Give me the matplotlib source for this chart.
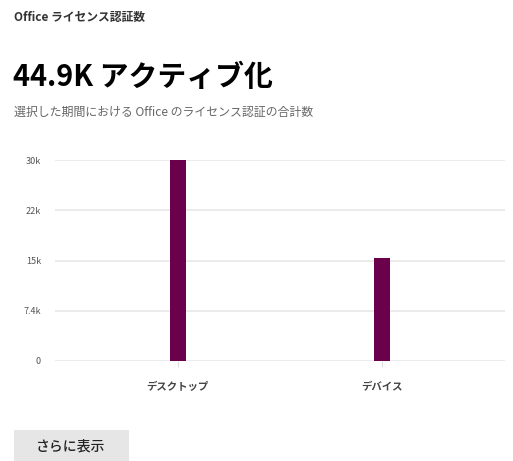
import matplotlib.pyplot as plt
from matplotlib.patches import FancyBboxPatch

plt.rcParams['font.family'] = ['Noto Sans CJK JP', 'DejaVu Sans']

categories = ['デスクトップ', 'デバイス']
activations = [29700, 15200]
tick_labels = ['0', '7.4k', '15k', '22k', '30k']

title = 'Office ライセンス認証数'
headline = '44.9K アクティブ化'
subtitle = '選択した期間における Office のライセンス認証の合計数'
button_text = 'さらに表示'

W, H = 513, 461
fig = plt.figure(figsize=(W / 100, H / 100), dpi=100)
fig.patch.set_facecolor('white')


def px(x, y):
    return x / W, 1 - y / H


fig.text(*px(14, 18), title, fontsize=8.5, color='#333333', va='center', ha='left', fontweight='bold')
fig.text(*px(13, 77), headline, fontsize=20.8, color='black', va='center', ha='left', fontweight='bold')
fig.text(*px(14, 112), subtitle, fontsize=8.6, color='#666666', va='center', ha='left')

# plot area
left, right = 55, 505
top, bottom = 160, 361
ax = fig.add_axes([left / W, 1 - bottom / H, (right - left) / W, (bottom - top) / H])
ymax = max(activations)
xs = list(range(len(categories)))
ax.bar(xs, activations, width=0.08, color='#6b004b', zorder=3)
ax.set_xlim(-0.6, 1.6)
ax.set_ylim(0, ymax)
ticks = [ymax * i / 4 for i in range(5)]
ax.set_yticks(ticks)
ax.set_yticklabels(tick_labels, fontsize=6.5, color='#555555')
ax.set_xticks(xs)
ax.set_xticklabels(categories, fontsize=7.5, fontweight='bold', color='#444444')
ax.tick_params(axis='y', length=0, pad=10)
ax.tick_params(axis='x', length=4, color='#e0e0e0', pad=11)
ax.grid(axis='y', color='#e8e8e8', linewidth=1.2, zorder=0)
ax.set_axisbelow(True)
for s in ax.spines.values():
    s.set_visible(False)

# button
btn = FancyBboxPatch(px(14, 461), 115 / W, 31 / H, boxstyle='square,pad=0',
                     transform=fig.transFigure, facecolor='#e6e6e6', edgecolor='none')
fig.patches.append(btn)
fig.text(*px(71, 446), button_text, fontsize=10, color='#222222', va='center', ha='center', fontweight='medium')

fig.savefig('out.png', dpi=100)
